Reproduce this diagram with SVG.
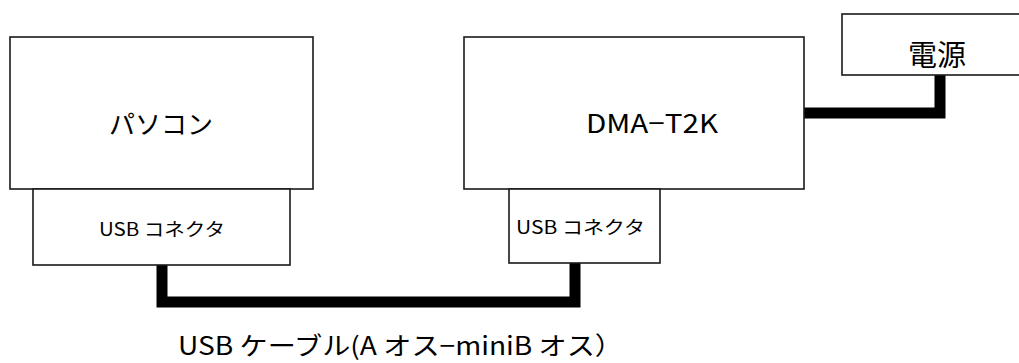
<svg xmlns="http://www.w3.org/2000/svg" width="1019" height="363" viewBox="0 0 1019 363">
<style>
.box{fill:#fff;stroke:#1a1a1a;stroke-width:1.6}
.lbl{font-family:"Noto Sans CJK JP","Liberation Sans",sans-serif;fill:#000}
.cable{fill:none;stroke:#000;stroke-width:11;stroke-linejoin:miter;stroke-linecap:butt}
</style>
<g id="connectors">
<polyline class="cable" points="162,265 162,302 575,302 575,263"/>
<polyline class="cable" points="804,113 940,113 940,75"/>
</g>
<g id="pc">
<rect class="box" x="10" y="37" width="303" height="152"/>
<text class="lbl" x="161" y="134" font-size="26" text-anchor="middle">パソコン</text>
</g>
<g id="pc-usb">
<rect class="box" x="33" y="189" width="257" height="76"/>
<text class="lbl" x="99" y="236" font-size="18" textLength="126" lengthAdjust="spacingAndGlyphs">USB コネクタ</text>
</g>
<g id="dma">
<rect class="box" x="464" y="37" width="340" height="152"/>
<text class="lbl" x="586" y="133" font-size="26" textLength="132" lengthAdjust="spacingAndGlyphs">DMA−T2K</text>
</g>
<g id="dma-usb">
<rect class="box" x="509" y="189" width="151" height="74"/>
<text class="lbl" x="516" y="234" font-size="18" textLength="129" lengthAdjust="spacingAndGlyphs">USB コネクタ</text>
</g>
<g id="power">
<rect class="box" x="842" y="14" width="200" height="61"/>
<text class="lbl" x="937" y="66" font-size="29" text-anchor="middle">電源</text>
</g>
<g id="cable-label">
<text class="lbl" x="178" y="355" font-size="25" textLength="445" lengthAdjust="spacingAndGlyphs">USB ケーブル(A オス−miniB オス）</text>
</g>
</svg>
